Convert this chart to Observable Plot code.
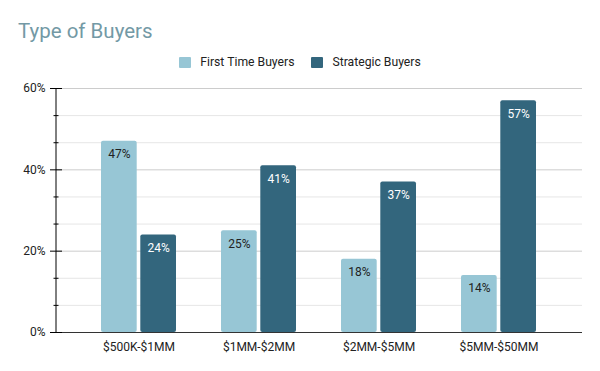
<!DOCTYPE html>
<html>
<head>
<meta charset="utf-8">
<script src="https://cdn.jsdelivr.net/npm/d3@7"></script>
<script src="https://cdn.jsdelivr.net/npm/@observablehq/plot@0.6"></script>
<style>
  html, body { margin: 0; padding: 0; background: #fff; font-family: Roboto, "Noto Sans", sans-serif; }
  #wrap { width: 600px; height: 371px; position: relative; }
  #title { position: absolute; left: 18px; top: 19px; font-size: 20.5px; color: #7399a5; line-height: 24px; }
  #legend { position: absolute; left: 0; top: 54px; width: 600px; display: flex; justify-content: center; gap: 17px; font-size: 12.2px; color: #222; line-height: 16px; }
  .item { display: flex; align-items: center; }
  .sw { width: 12px; height: 11px; margin-right: 9px; border-radius: 1px; }
  #chart { position: absolute; left: 0; top: 78px; }
</style>
</head>
<body>
<div id="wrap">
  <div id="title">Type of Buyers</div>
  <div id="legend"></div>
  <div id="chart"></div>
</div>
<script>
const categories = ["$500K-$1MM", "$1MM-$2MM", "$2MM-$5MM", "$5MM-$50MM"];
const seriesNames = ["First Time Buyers", "Strategic Buyers"];
const firstTime = [47, 25, 18, 14];
const strategic = [24, 41, 37, 57];
const colors = ["#97c6d5", "#33667d"];
const labelColors = ["#222222", "#ffffff"];
const majorTicks = [0, 20, 40, 60];
const minorTicks = [20/3, 40/3, 80/3, 100/3, 140/3, 160/3];

const legend = document.getElementById("legend");
seriesNames.forEach((n, i) => {
  const it = document.createElement("div");
  it.className = "item";
  it.innerHTML = `<span class="sw" style="background:${colors[i]}"></span><span>${n}</span>`;
  legend.appendChild(it);
});

const dataA = categories.map((c, i) => ({cat: c, value: firstTime[i]}));
const dataB = categories.map((c, i) => ({cat: c, value: strategic[i]}));

const fmt = d => `${Math.round(d)}%`;

// vertical y-axis line along the left edge of the plot area
const axisLine = (index, scales, values, dimensions) => {
  const {y} = scales;
  const x0 = dimensions.marginLeft;
  return d3.create("svg:line")
    .attr("x1", x0).attr("x2", x0)
    .attr("y1", y(d3.max(majorTicks))).attr("y2", y(0))
    .attr("stroke", "#000").node();
};

const chart = Plot.plot({
  width: 600,
  height: 293,
  marginTop: 10,
  marginBottom: 39,
  marginLeft: 56,
  marginRight: 18,
  style: {fontFamily: "Roboto, sans-serif", fontSize: "12px", color: "#222"},
  x: {domain: categories, paddingInner: 0.3724, paddingOuter: 0.3605, label: null},
  y: {domain: [0, 60], label: null},
  marks: [
    Plot.ruleY(minorTicks, {stroke: "#e6e6e6"}),
    Plot.ruleY(majorTicks.slice(1), {stroke: "#cccccc"}),
    Plot.barY(dataA, {x: "cat", y: "value", fill: colors[0], insetRight: 39.3, rx: 2}),
    Plot.barY(dataB, {x: "cat", y: "value", fill: colors[1], insetLeft: 39.3, rx: 2}),
    Plot.text(dataA, {x: "cat", y: "value", text: d => fmt(d.value), dx: -19.65, dy: 13, fill: labelColors[0], fontSize: 12}),
    Plot.text(dataB, {x: "cat", y: "value", text: d => fmt(d.value), dx: 19.65, dy: 13, fill: labelColors[1], fontSize: 12}),
    Plot.ruleY([0], {stroke: "#333"}),
    axisLine,
    Plot.axisY({ticks: majorTicks, tickSize: 6, tickPadding: 5, tickFormat: fmt, stroke: "#000", fill: "#222", fontSize: 12}),
    Plot.axisY({ticks: majorTicks, tickSize: 6, dx: 6, tickFormat: () => "", stroke: "#000"}),
    Plot.axisY({ticks: minorTicks, tickSize: 5, dx: 2.5, tickFormat: () => "", stroke: "#000"}),
    Plot.axisX({tickSize: 0, tickPadding: 10, fill: "#222", fontSize: 12})
  ]
});
document.getElementById("chart").appendChild(chart);
</script>
</body>
</html>
